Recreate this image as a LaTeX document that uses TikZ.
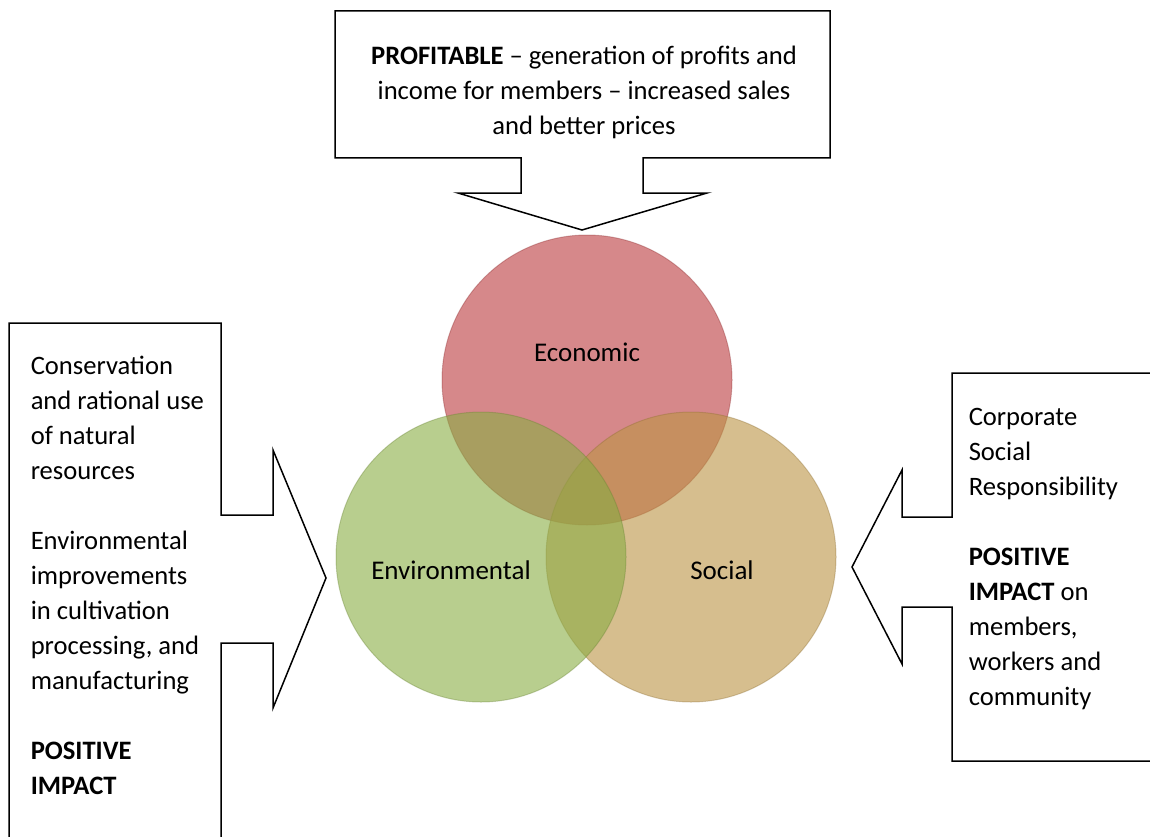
\documentclass[tikz,border=0pt]{standalone}
\usepackage{fontspec}
\setmainfont{Carlito}

% Colours of the three circles.
\definecolor{econred}{RGB}{187,57,60}
\definecolor{envgreen}{RGB}{137,173,67}
\definecolor{soctan}{RGB}{187,147,67}

\begin{document}
\begin{tikzpicture}[x=1pt, y=-1pt, line width=1.5pt,
    callout/.style={draw=black, fill=white, line join=miter},
    venn/.style={fill=#1, fill opacity=0.6, draw=#1!75!black, draw opacity=0.35, line width=1pt},
    boxtext/.style={anchor=north west, inner sep=0pt, align=left,
                    font=\fontsize{26.6}{35}\selectfont},
    circtext/.style={inner sep=0pt, font=\fontsize{27}{30}\selectfont}]

    % Page size of the picture.
    \useasboundingbox (0,0) rectangle (1150,837);
    \clip (0,0) rectangle (1150,837);

    % Coordinates for the centers of the circles.
    \coordinate (Ceco) at (587,380);
    \coordinate (Cenv) at (481,557);
    \coordinate (Csoc) at (691,557);

    % Draw the three circles (green one on top).
    \draw[venn=econred]  (Ceco) circle (145pt);
    \draw[venn=soctan]   (Csoc) circle (145pt);
    \draw[venn=envgreen] (Cenv) circle (145pt);

    % Labels of the circles.
    \node[circtext] (eco) at (587,352) {Economic};
    \node[circtext] (env) at (451,570) {Environmental};
    \node[circtext] (soc) at (722,570) {Social};

    % Top callout, pointing down.
    \draw[callout] (335,11) -- (830,11) -- (830,158) -- (643,158) -- (643,193)
        -- (707,193) -- (582,230) -- (458,193) -- (521,193) -- (521,158)
        -- (335,158) -- cycle;

    % Left callout, pointing right.
    \draw[callout] (9,850) -- (9,323) -- (221,323) -- (221,515) -- (273,515)
        -- (273,450) -- (326,578) -- (273,708) -- (273,643) -- (221,643)
        -- (221,850);

    % Right callout, pointing left.
    \draw[callout] (1160,373) -- (952,373) -- (952,517) -- (902,517)
        -- (902,470) -- (852,567) -- (902,664) -- (902,607) -- (952,607)
        -- (952,761) -- (1160,761);

    % Texts of the callouts.
    \node[boxtext, anchor=north, align=center] (profit) at (584,39.5)
        {\strut\textbf{PROFITABLE} – generation of profits and\\
         income for members – increased sales\\
         and better prices};
    \node[boxtext] (envtxt) at (30,349.5)
        {\strut Conservation\\ and rational use\\ of natural\\ resources\\[35pt]
         Environmental\\ improvements\\ in cultivation\\ processing, and\\
         manufacturing\\[35pt]
         \textbf{POSITIVE}\\ \textbf{IMPACT}};
    \node[boxtext] (soctxt) at (968,400.5)
        {\strut Corporate\\ Social\\ Responsibility\\[35pt]
         \textbf{POSITIVE}\\ \textbf{IMPACT} on\\ members,\\ workers and\\
         community};
\end{tikzpicture}
\end{document}
